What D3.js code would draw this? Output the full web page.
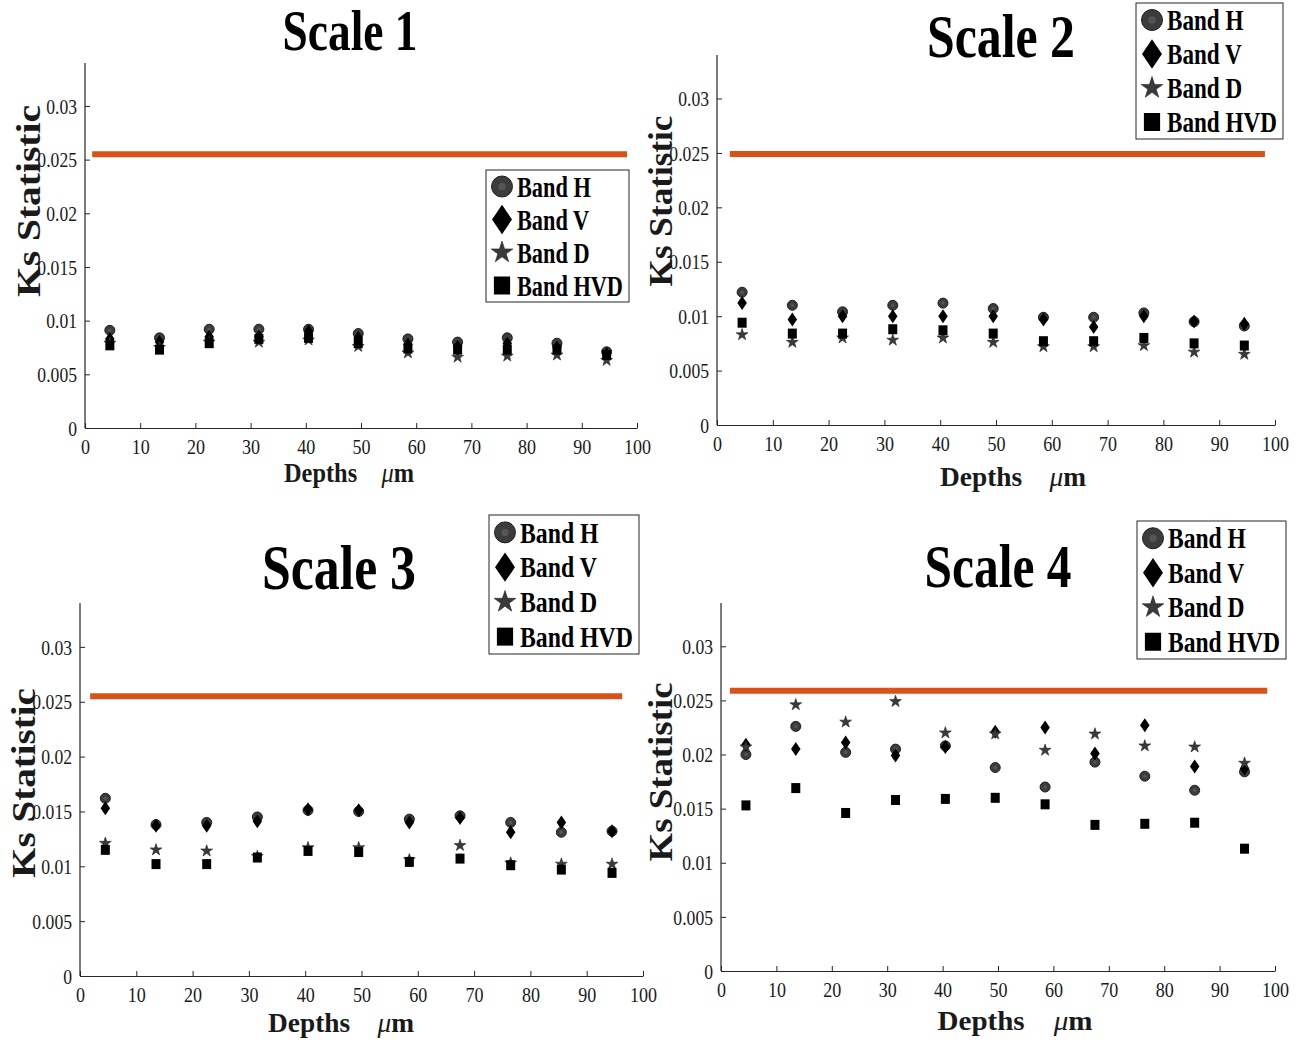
<!DOCTYPE html>
<html><head><meta charset="utf-8">
<script src="https://cdn.jsdelivr.net/npm/d3@7"></script>
<style>body{margin:0;background:#fff}svg{display:block}</style>
</head><body>
<script>
// ---- data ----
const depths = [4.5, 13.5, 22.5, 31.5, 40.5, 49.5, 58.5, 67.5, 76.5, 85.5, 94.5];
const yTicks = [0, 0.005, 0.01, 0.015, 0.02, 0.025, 0.03];
const yTickLabels = ["0", "0.005", "0.01", "0.015", "0.02", "0.025", "0.03"];
const xTicks = [0, 10, 20, 30, 40, 50, 60, 70, 80, 90, 100];
const bandNames = ["Band H", "Band V", "Band D", "Band HVD"];
const scaleTitles = ["Scale 1", "Scale 2", "Scale 3", "Scale 4"];
const thresholds = [0.0255, 0.0249, 0.0255, 0.0259];
const thresholdSpan = [[1.3, 98.2], [2.3, 98.2], [1.8, 96.3], [1.6, 98.6]];

const s1H   = [0.0091, 0.0084, 0.0092, 0.0092, 0.0092, 0.0088, 0.0083, 0.0080, 0.0084, 0.0079, 0.0071];
const s1V   = [0.0083, 0.0080, 0.0085, 0.0085, 0.0090, 0.0084, 0.0078, 0.0076, 0.0079, 0.0075, 0.0069];
const s1D   = [0.0079, 0.0075, 0.0080, 0.0080, 0.0082, 0.0076, 0.0070, 0.0066, 0.0067, 0.0068, 0.0063];
const s1HVD = [0.0077, 0.0073, 0.0079, 0.0083, 0.0084, 0.0079, 0.0074, 0.0073, 0.0073, 0.0073, 0.0068];

const s2H   = [0.0122, 0.0110, 0.0104, 0.0110, 0.0112, 0.0107, 0.0099, 0.0099, 0.0103, 0.0095, 0.0091];
const s2V   = [0.0112, 0.0097, 0.0100, 0.0100, 0.0100, 0.0100, 0.0097, 0.0090, 0.0100, 0.0095, 0.0093];
const s2D   = [0.0083, 0.0076, 0.0080, 0.0078, 0.0080, 0.0076, 0.0072, 0.0072, 0.0073, 0.0067, 0.0065];
const s2HVD = [0.0094, 0.0084, 0.0084, 0.0088, 0.0087, 0.0084, 0.0077, 0.0077, 0.0080, 0.0075, 0.0073];

const s3H   = [0.0162, 0.0138, 0.0140, 0.0145, 0.0151, 0.0150, 0.0143, 0.0146, 0.0140, 0.0131, 0.0132];
const s3V   = [0.0153, 0.0137, 0.0137, 0.0141, 0.0152, 0.0151, 0.0140, 0.0144, 0.0131, 0.0140, 0.0132];
const s3D   = [0.0121, 0.0115, 0.0114, 0.0109, 0.0117, 0.0117, 0.0106, 0.0119, 0.0103, 0.0102, 0.0102];
const s3HVD = [0.0115, 0.0102, 0.0102, 0.0108, 0.0114, 0.0113, 0.0104, 0.0107, 0.0101, 0.0097, 0.0094];

const s4H   = [0.0200, 0.0226, 0.0202, 0.0205, 0.0208, 0.0188, 0.0170, 0.0193, 0.0180, 0.0167, 0.0184];
const s4V   = [0.0209, 0.0205, 0.0211, 0.0199, 0.0207, 0.0221, 0.0225, 0.0201, 0.0227, 0.0189, 0.0187];
const s4D   = [0.0207, 0.0246, 0.0230, 0.0249, 0.0220, 0.0219, 0.0204, 0.0219, 0.0208, 0.0207, 0.0192];
const s4HVD = [0.0153, 0.0169, 0.0146, 0.0158, 0.0159, 0.0160, 0.0154, 0.0135, 0.0136, 0.0137, 0.0113];

const scaleData = [[s1H, s1V, s1D, s1HVD], [s2H, s2V, s2D, s2HVD], [s3H, s3V, s3D, s3HVD], [s4H, s4V, s4D, s4HVD]];

// ---- layout ----
const panels = [
  {x0: 85, x1: 637, y0: 428, y1: 63, title: [350, 50, 56, 135], ylab: [28, 201, 192], xlab: [349, 482, 130], leg: [486, 170, 143, 132]},
  {x0: 717, x1: 1275, y0: 425, y1: 55, title: [1001, 57, 61, 148], ylab: [660, 201, 171], xlab: [1013, 486, 146], leg: [1136, 3, 147, 136]},
  {x0: 80, x1: 643, y0: 976, y1: 603, title: [339, 589, 63, 154], ylab: [23, 783, 190], xlab: [341, 1032, 146], leg: [489, 515, 150, 139]},
  {x0: 721, x1: 1275, y0: 971, y1: 603, title: [998, 587, 61, 147], ylab: [660, 772, 179], xlab: [1015, 1030, 155], leg: [1137, 521, 149, 138]}
];
const YMAX = 0.034;
const SERIF = "'Liberation Serif','Times New Roman',serif";
const AX = "#262626";

const svg = d3.select("body").append("svg").attr("width", 1305).attr("height", 1041)
  .style("font-family", SERIF);

function squeezeTo(textSel, target) {
  const w = textSel.node().getBBox().width;
  textSel.attr("transform", `scale(${target / w},1)`);
  return target / w;
}

function marker(g, type, x, y, s) {
  if (type === 0) {
    g.append("circle").attr("cx", x).attr("cy", y).attr("r", s)
      .attr("fill", "#3c3c3c").attr("stroke", "#1e1e1e").attr("stroke-width", 1);
    g.append("circle").attr("cx", x).attr("cy", y).attr("r", s * 0.35).attr("fill", "#555");
  } else if (type === 1) {
    const w = s * 0.95, h = s * 1.4;
    g.append("path").attr("d", `M${x},${y - h}L${x + w},${y}L${x},${y + h}L${x - w},${y}Z`).attr("fill", "#000");
  } else if (type === 2) {
    const p = d3.symbol(d3.symbolStar, Math.pow(s * 1.05, 2) * 1.1)();
    g.append("path").attr("d", p).attr("transform", `translate(${x},${y})`).attr("fill", "#3a3a3a").attr("stroke", "#222").attr("stroke-width", 0.6);
  } else {
    g.append("rect").attr("x", x - s * 0.9).attr("y", y - s).attr("width", s * 1.8).attr("height", s * 2).attr("fill", "#000");
  }
}

panels.forEach((P, i) => {
  const g = svg.append("g");
  const x = d3.scaleLinear().domain([0, 100]).range([P.x0, P.x1]);
  const y = d3.scaleLinear().domain([0, YMAX]).range([P.y0, P.y1]);

  g.append("line").attr("x1", x(thresholdSpan[i][0])).attr("x2", x(thresholdSpan[i][1]))
    .attr("y1", y(thresholds[i])).attr("y2", y(thresholds[i]))
    .attr("stroke", "#d95319").attr("stroke-width", 6);

  const ya = d3.axisLeft(y).tickValues(yTicks).tickFormat((d, k) => yTickLabels[k]).tickSizeInner(-5).tickSizeOuter(0).tickPadding(8);
  const yg = g.append("g").attr("transform", `translate(${P.x0},0)`).call(ya);
  yg.select(".domain").attr("d", `M0,${P.y1}V${P.y0}`);
  const xa = d3.axisBottom(x).tickValues(xTicks).tickSizeInner(-5).tickSizeOuter(0).tickPadding(10);
  const xg = g.append("g").attr("transform", `translate(0,${P.y0})`).call(xa);
  [yg, xg].forEach(a => {
    a.selectAll(".domain").attr("stroke", AX).attr("stroke-width", 1.2);
    a.selectAll(".tick line").attr("stroke", AX);
    a.selectAll(".tick text").attr("fill", "#1a1a1a").style("font-size", "21px").style("font-family", SERIF);
  });
  yg.selectAll(".tick text").each(function () {
    const t = d3.select(this);
    const xx = +t.attr("x");
    t.attr("x", xx / 0.84).attr("dy", "0.34em").attr("transform", "scale(0.84,1)");
  });
  xg.selectAll(".tick text").attr("transform", "scale(0.86,1)").attr("dy", "0.78em");

  const sizes = [5, 5, 6, 5];
  scaleData[i].forEach((series, s) => {
    const mg = g.append("g").attr("class", "series-" + s);
    series.forEach((v, k) => marker(mg, s, x(depths[k]), y(v), sizes[s]));
  });

  // title
  const tg = g.append("g").attr("transform", `translate(${P.title[0]},${P.title[1]})`);
  const tt = tg.append("text").attr("text-anchor", "middle").style("font-size", P.title[2] + "px").style("font-weight", "bold").attr("fill", "#000").text(scaleTitles[i]);
  squeezeTo(tt, P.title[3]);

  // y label
  const yl = g.append("g").attr("transform", `translate(${P.ylab[0]},${P.ylab[1]}) rotate(-90)`);
  const ylt = yl.append("text").attr("text-anchor", "middle").attr("dy", "0.35em").style("font-size", "33px").style("font-weight", "bold").attr("fill", "#1a1a1a").text("Ks Statistic");
  squeezeTo(ylt, P.ylab[2]);

  // x label
  const xl = g.append("g").attr("transform", `translate(${P.xlab[0]},${P.xlab[1]})`);
  const xlt = xl.append("text").attr("text-anchor", "middle").style("font-size", "28px").style("font-weight", "bold").attr("fill", "#1a1a1a");
  xlt.append("tspan").text("Depths");
  xlt.append("tspan").attr("dx", 28).style("font-style", "italic").style("font-weight", "normal").text("μ");
  xlt.append("tspan").text("m");
  squeezeTo(xlt, P.xlab[2]);

  // legend
  const [lx, ly, lw, lh] = P.leg;
  const lg = g.append("g");
  lg.append("rect").attr("x", lx).attr("y", ly).attr("width", lw).attr("height", lh)
    .attr("fill", "#fff").attr("stroke", AX).attr("stroke-width", 1);
  const rowH = lh / 4;
  const texts = [];
  bandNames.forEach((name, s) => {
    const cy = ly + rowH * (s + 0.5);
    const lsz = [10.5, 10.5, 11, 9][s];
    marker(lg, s, lx + 16, cy, lsz);
    const t = lg.append("g").attr("transform", `translate(${lx + 31},${cy})`)
      .append("text").attr("dy", "0.35em").style("font-size", "29px").style("font-weight", "bold").attr("fill", "#000").text(name);
    texts.push(t);
  });
  const k = squeezeTo(texts[3], lw - 37);
  texts.forEach(t => t.attr("transform", `scale(${k},1)`));
});
</script>
</body></html>
